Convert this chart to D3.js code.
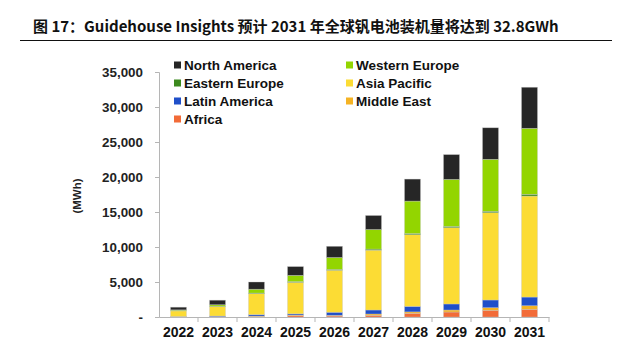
<!DOCTYPE html>
<html>
  <head>
    <meta charset="utf-8">
    <title>全球钒电池装机量</title>
    <script src="https://d3js.org/d3.v7.min.js"></script>
    <style>
      body { margin: 0; background: #fff; }
      svg { display: block; }
      .title { font-family: "Noto Sans CJK SC", "Noto Sans", sans-serif; font-weight: 700; font-size: 15px; fill: #111; }
      .axis text { font-family: "Liberation Sans", Arial, sans-serif; font-weight: 700; }
      .legend text { font-family: "Liberation Sans", Arial, sans-serif; font-weight: 700; font-size: 13.5px; fill: #111; }
    </style>
  </head>
  <body>
    <svg id="chart" width="641" height="348"></svg>
    <script>
      // chart data (MWh)
      const years = ["2022", "2023", "2024", "2025", "2026", "2027", "2028", "2029", "2030", "2031"];
      const africa = [20, 30, 80, 200, 150, 240, 530, 710, 960, 1100];
      const middleEast = [20, 30, 60, 80, 100, 190, 200, 290, 370, 510];
      const latinAmerica = [30, 80, 200, 170, 430, 570, 790, 860, 1100, 1240];
      const asiaPacific = [800, 1350, 3000, 4500, 6000, 8550, 10240, 10900, 12470, 14430];
      const easternEurope = [50, 60, 80, 100, 120, 150, 150, 180, 200, 250];
      const westernEurope = [100, 200, 550, 900, 1700, 2800, 4650, 6720, 7430, 9430];
      const northAmerica = [380, 650, 1030, 1250, 1600, 2000, 3140, 3540, 4500, 5860];
      const yTicks = [0, 5000, 10000, 15000, 20000, 25000, 30000, 35000];

      // stacking order, bottom to top
      const series = [
        { name: "Africa", values: africa, color: "#f26b38" },
        { name: "Middle East", values: middleEast, color: "#f5b324" },
        { name: "Latin America", values: latinAmerica, color: "#1f4fc9" },
        { name: "Asia Pacific", values: asiaPacific, color: "#fcdc34" },
        { name: "Eastern Europe", values: easternEurope, color: "#3c8a1e" },
        { name: "Western Europe", values: westernEurope, color: "#93d500" },
        { name: "North America", values: northAmerica, color: "#262626" }
      ];
      // legend layout: [series name, column, row]
      const legendItems = [
        ["North America", 0, 0], ["Western Europe", 1, 0],
        ["Eastern Europe", 0, 1], ["Asia Pacific", 1, 1],
        ["Latin America", 0, 2], ["Middle East", 1, 2],
        ["Africa", 0, 3]
      ];

      const table = years.map(function(y, i) {
        const row = { year: y };
        series.forEach(function(s) { row[s.name] = s.values[i]; });
        return row;
      });
      const stacked = d3.stack().keys(series.map(function(s) { return s.name; }))(table);
      const color = d3.scaleOrdinal()
        .domain(series.map(function(s) { return s.name; }))
        .range(series.map(function(s) { return s.color; }));

      const svg = d3.select("#chart");

      // title + rule
      svg.append("text")
        .attr("class", "title")
        .attr("x", 33)
        .attr("y", 32)
        .text("图 17：Guidehouse Insights 预计 2031 年全球钒电池装机量将达到 32.8GWh");
      svg.append("line")
        .attr("x1", 20).attr("x2", 612)
        .attr("y1", 40.5).attr("y2", 40.5)
        .attr("stroke", "#111").attr("stroke-width", 1.2);

      const x = d3.scaleBand().domain(years).range([159, 549]);
      const y = d3.scaleLinear().domain([0, 35000]).range([317, 72]);
      const barW = 16;

      // y axis
      const yAxis = svg.append("g")
        .attr("class", "axis")
        .attr("transform", "translate(159,0)")
        .call(d3.axisLeft(y)
          .tickValues(yTicks)
          .tickSize(4)
          .tickPadding(12)
          .tickFormat(function(d) { return d === 0 ? "-" : d3.format(",")(d); }));
      yAxis.selectAll("text").attr("font-size", 13.4).attr("fill", "#222");
      yAxis.selectAll("line").attr("stroke", "#b5b5b5");
      yAxis.select(".domain").attr("stroke", "#b5b5b5");

      // x axis with ticks between categories
      const xAxis = svg.append("g")
        .attr("class", "axis")
        .attr("transform", "translate(0,317)")
        .call(d3.axisBottom(x).tickSize(0).tickPadding(10).tickSizeOuter(0));
      xAxis.selectAll("text").attr("font-size", 14).attr("fill", "#111");
      xAxis.select(".domain").attr("stroke", "#b5b5b5");
      xAxis.selectAll(".sep")
        .data(years.slice(1).concat(["end"]))
        .enter().append("line")
          .attr("class", "sep")
          .attr("x1", function(d, i) { return x(years[i]) + x.bandwidth(); })
          .attr("x2", function(d, i) { return x(years[i]) + x.bandwidth(); })
          .attr("y1", 0).attr("y2", 5)
          .attr("stroke", "#b5b5b5");

      // axis title
      svg.append("text")
        .attr("transform", "translate(81,196) rotate(-90)")
        .attr("text-anchor", "middle")
        .attr("font-family", "Liberation Sans, Arial, sans-serif")
        .attr("font-weight", 700)
        .attr("font-size", 11.5)
        .attr("fill", "#222")
        .text("(MWh)");

      // stacked bars
      svg.append("g")
        .selectAll("g")
        .data(stacked)
        .enter().append("g")
          .attr("fill", function(d) { return color(d.key); })
        .selectAll("rect")
        .data(function(d) { return d; })
        .enter().append("rect")
          .attr("x", function(d) { return x(d.data.year) + (x.bandwidth() - barW) / 2; })
          .attr("width", barW)
          .attr("y", function(d) { return y(d[1]); })
          .attr("height", function(d) { return y(d[0]) - y(d[1]); })
          .attr("stroke", "rgba(200,200,200,0.6)")
          .attr("stroke-width", 0.6);

      // legend
      const legend = svg.append("g").attr("class", "legend");
      const lg = legend.selectAll("g")
        .data(legendItems)
        .enter().append("g")
          .attr("transform", function(d) { return "translate(" + (174 + d[1] * 172) + "," + (65 + d[2] * 18) + ")"; });
      lg.append("rect")
        .attr("x", 0).attr("y", -3.5)
        .attr("width", 7).attr("height", 7)
        .attr("fill", function(d) { return color(d[0]); });
      lg.append("text")
        .attr("x", 10)
        .attr("y", 5)
        .text(function(d) { return d[0]; });
    </script>
  </body>
</html>
